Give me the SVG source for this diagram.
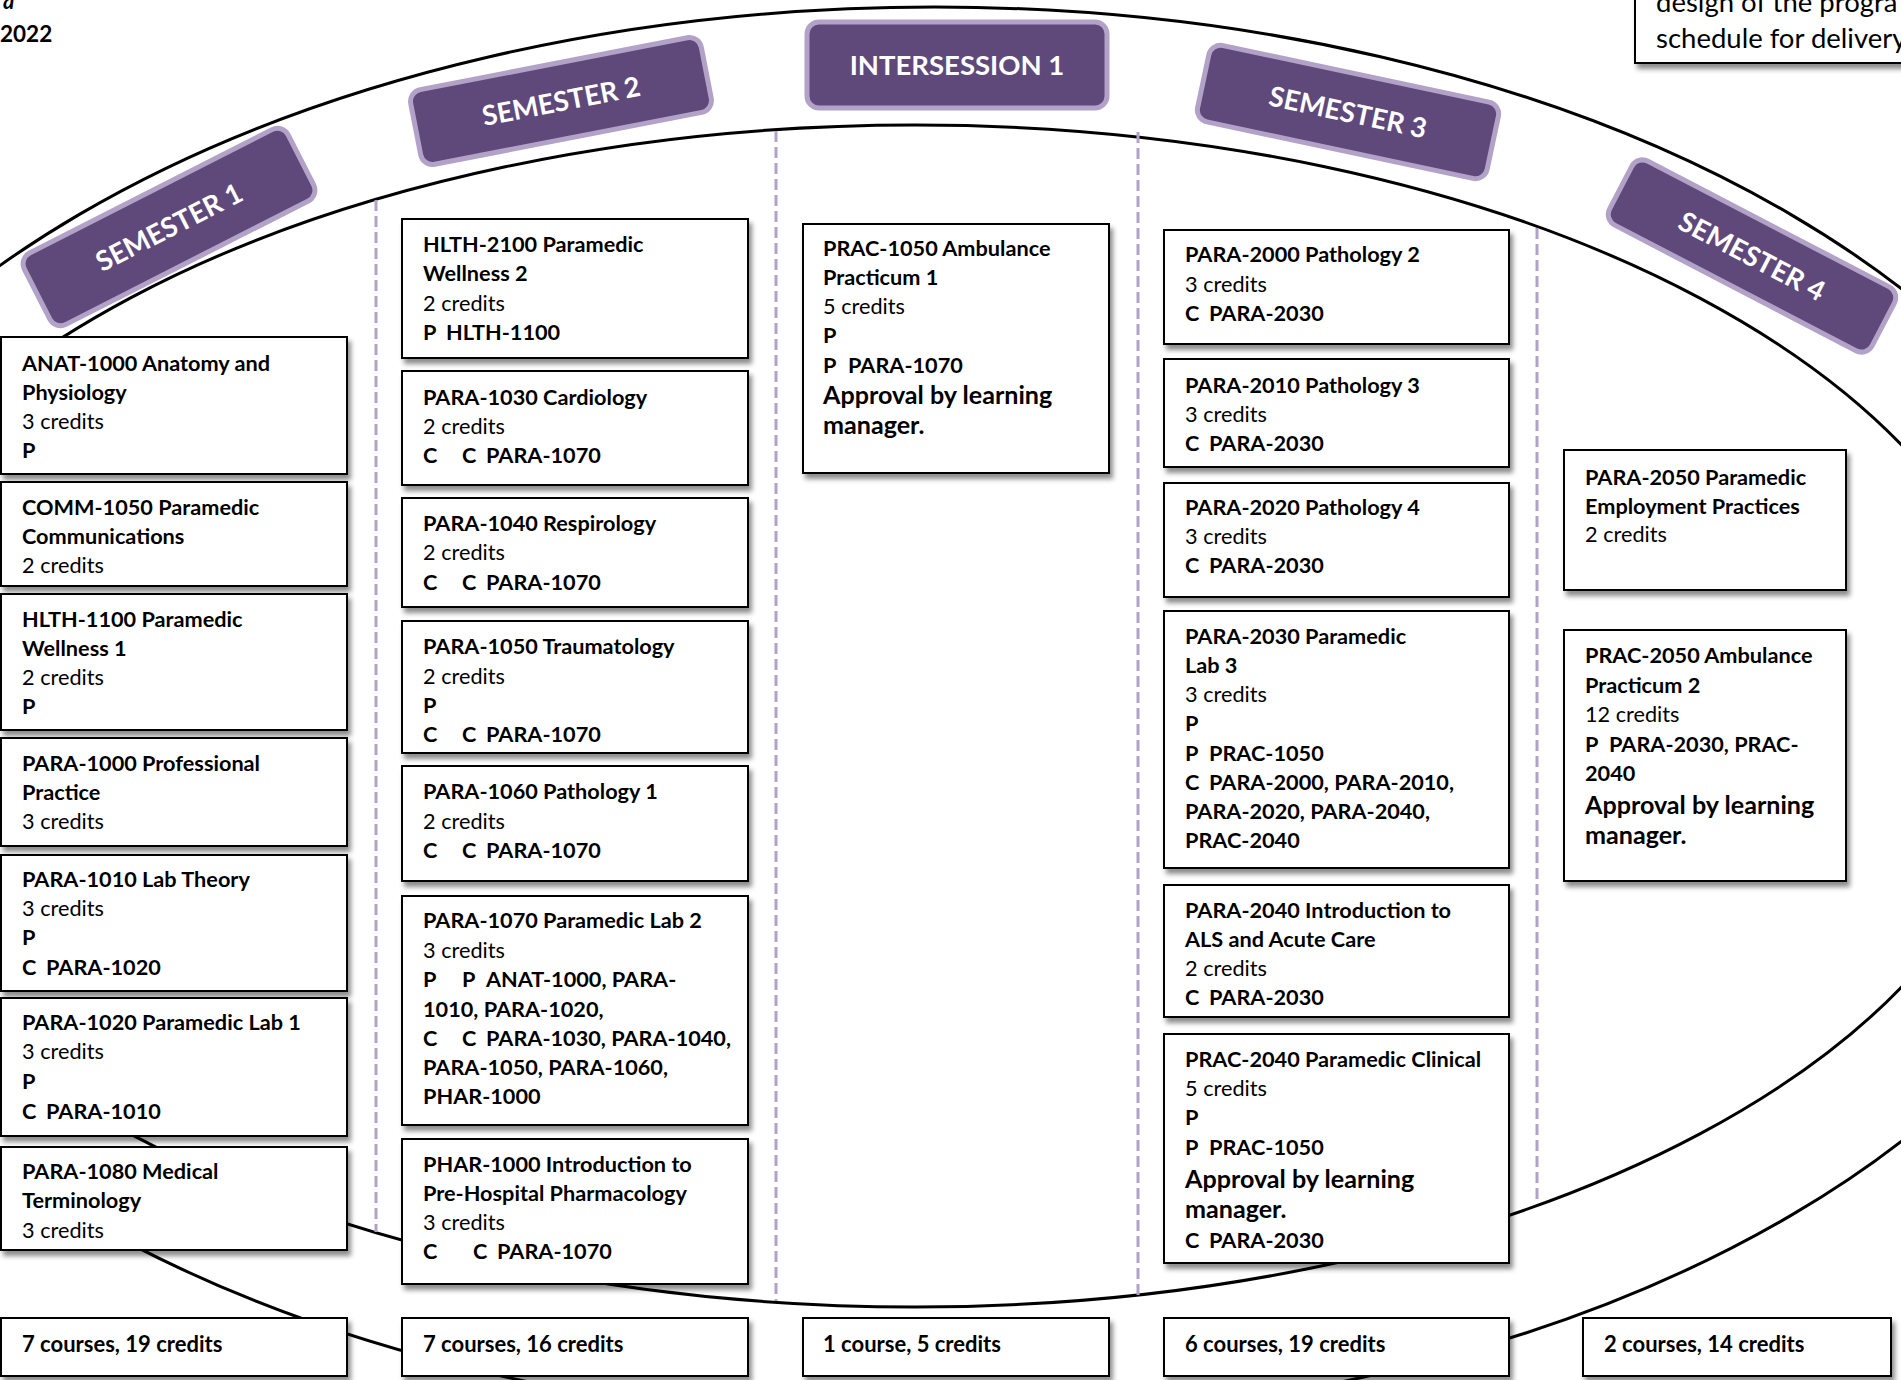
<svg xmlns="http://www.w3.org/2000/svg" width="1901" height="1380" viewBox="0 0 1901 1380">
<style>
text{font-family:Lato,"Liberation Sans",sans-serif;font-size:21.7px;fill:#000}
.b{font-weight:700}
.big{font-size:25.1px;font-weight:700}
.sum{font-size:22px;font-weight:700}
.box{fill:#fff;stroke:#000;stroke-width:2;filter:url(#sh)}
.lbl{fill:#5f497a;stroke:#b3a2c7;stroke-width:5}
.lt{fill:#fff;font-size:27.5px;font-weight:700;text-anchor:middle}
.ring{fill:none;stroke:#000;stroke-width:3}
.dash{stroke:#b3a2c7;stroke-width:3;stroke-dasharray:11 5;fill:none}
.note{font-size:27.5px}
</style>
<defs>
<filter id="sh" x="-10%" y="-10%" width="130%" height="140%">
<feDropShadow dx="3" dy="5" stdDeviation="2.5" flood-color="#000" flood-opacity="0.45"/>
</filter>
</defs>
<rect x="0" y="0" width="1901" height="1380" fill="#fff"/>

<g id="connectors">
<ellipse class="ring" cx="935" cy="715" rx="1210" ry="708"/>
<ellipse class="ring" cx="915" cy="716" rx="1110" ry="591"/>
<line class="dash" x1="376" y1="200" x2="376" y2="1232"/>
<line class="dash" x1="776" y1="131" x2="776" y2="1301"/>
<line class="dash" x1="1138" y1="132" x2="1138" y2="1300"/>
<line class="dash" x1="1537" y1="228" x2="1537" y2="1204"/>
</g>

<g id="header-text">
<text class="b" x="3" y="9" font-style="italic">a</text>
<text class="b" x="0" y="42" style="font-size:22.5px">2022</text>
</g>

<g id="note">
<rect class="box" x="1635" y="-10" width="280" height="73"/>
<text class="note" x="1656" y="12">design of the progra</text>
<text class="note" x="1656" y="48">schedule for delivery</text>
</g>

<!-- Column 1 -->
<g id="anat-1000">
<rect class="box" x="1" y="337" width="346" height="137"/>
<text class="b" x="22" y="371">ANAT-1000 Anatomy and</text>
<text class="b" x="22" y="400">Physiology</text>
<text x="22" y="429">3 credits</text>
<text class="b" x="22" y="458">P</text>
</g>
<g id="comm-1050">
<rect class="box" x="1" y="482" width="346" height="104"/>
<text class="b" x="22" y="515">COMM-1050 Paramedic</text>
<text class="b" x="22" y="544">Communications</text>
<text x="22" y="573">2 credits</text>
</g>
<g id="hlth-1100">
<rect class="box" x="1" y="594" width="346" height="136"/>
<text class="b" x="22" y="627">HLTH-1100 Paramedic</text>
<text class="b" x="22" y="656">Wellness 1</text>
<text x="22" y="685">2 credits</text>
<text class="b" x="22" y="714">P</text>
</g>
<g id="para-1000">
<rect class="box" x="1" y="738" width="346" height="108"/>
<text class="b" x="22" y="771">PARA-1000 Professional</text>
<text class="b" x="22" y="800">Practice</text>
<text x="22" y="829">3 credits</text>
</g>
<g id="para-1010">
<rect class="box" x="1" y="855" width="346" height="136"/>
<text class="b" x="22" y="887">PARA-1010 Lab Theory</text>
<text x="22" y="916">3 credits</text>
<text class="b" x="22" y="945">P</text>
<text class="b" x="22" y="975">C<tspan x="46">PARA-1020</tspan></text>
</g>
<g id="para-1020">
<rect class="box" x="1" y="998" width="346" height="138"/>
<text class="b" x="22" y="1030">PARA-1020 Paramedic Lab 1</text>
<text x="22" y="1059">3 credits</text>
<text class="b" x="22" y="1089">P</text>
<text class="b" x="22" y="1119">C<tspan x="46">PARA-1010</tspan></text>
</g>
<g id="para-1080">
<rect class="box" x="1" y="1147" width="346" height="103"/>
<text class="b" x="22" y="1179">PARA-1080 Medical</text>
<text class="b" x="22" y="1208">Terminology</text>
<text x="22" y="1238">3 credits</text>
</g>
<g id="sum-1">
<rect class="box" x="1" y="1318" width="346" height="58"/>
<text class="sum" x="22" y="1352">7 courses, 19 credits</text>
</g>

<!-- Column 2 -->
<g id="hlth-2100">
<rect class="box" x="402" y="219" width="346" height="139"/>
<text class="b" x="423" y="252">HLTH-2100 Paramedic</text>
<text class="b" x="423" y="281">Wellness 2</text>
<text x="423" y="311">2 credits</text>
<text class="b" x="423" y="340">P<tspan x="446">HLTH-1100</tspan></text>
</g>
<g id="para-1030">
<rect class="box" x="402" y="371" width="346" height="114"/>
<text class="b" x="423" y="405">PARA-1030 Cardiology</text>
<text x="423" y="434">2 credits</text>
<text class="b" x="423" y="463">C<tspan x="462">C</tspan><tspan x="486">PARA-1070</tspan></text>
</g>
<g id="para-1040">
<rect class="box" x="402" y="498" width="346" height="109"/>
<text class="b" x="423" y="531">PARA-1040 Respirology</text>
<text x="423" y="560">2 credits</text>
<text class="b" x="423" y="590">C<tspan x="462">C</tspan><tspan x="486">PARA-1070</tspan></text>
</g>
<g id="para-1050">
<rect class="box" x="402" y="621" width="346" height="132"/>
<text class="b" x="423" y="654">PARA-1050 Traumatology</text>
<text x="423" y="684">2 credits</text>
<text class="b" x="423" y="713">P</text>
<text class="b" x="423" y="742">C<tspan x="462">C</tspan><tspan x="486">PARA-1070</tspan></text>
</g>
<g id="para-1060">
<rect class="box" x="402" y="766" width="346" height="115"/>
<text class="b" x="423" y="799">PARA-1060 Pathology 1</text>
<text x="423" y="829">2 credits</text>
<text class="b" x="423" y="858">C<tspan x="462">C</tspan><tspan x="486">PARA-1070</tspan></text>
</g>
<g id="para-1070">
<rect class="box" x="402" y="896" width="346" height="229"/>
<text class="b" x="423" y="928">PARA-1070 Paramedic Lab 2</text>
<text x="423" y="958">3 credits</text>
<text class="b" x="423" y="987">P<tspan x="462">P</tspan><tspan x="486">ANAT-1000, PARA-</tspan></text>
<text class="b" x="423" y="1017">1010, PARA-1020,</text>
<text class="b" x="423" y="1046">C<tspan x="462">C</tspan><tspan x="486">PARA-1030, PARA-1040,</tspan></text>
<text class="b" x="423" y="1075">PARA-1050, PARA-1060,</text>
<text class="b" x="423" y="1104">PHAR-1000</text>
</g>
<g id="phar-1000">
<rect class="box" x="402" y="1139" width="346" height="145"/>
<text class="b" x="423" y="1172">PHAR-1000 Introduction to</text>
<text class="b" x="423" y="1201">Pre-Hospital Pharmacology</text>
<text x="423" y="1230">3 credits</text>
<text class="b" x="423" y="1259">C<tspan x="473">C</tspan><tspan x="497">PARA-1070</tspan></text>
</g>
<g id="sum-2">
<rect class="box" x="402" y="1318" width="346" height="58"/>
<text class="sum" x="423" y="1352">7 courses, 16 credits</text>
</g>

<!-- Column 3 -->
<g id="prac-1050">
<rect class="box" x="803" y="224" width="306" height="249"/>
<text class="b" x="823" y="256">PRAC-1050 Ambulance</text>
<text class="b" x="823" y="285">Practicum 1</text>
<text x="823" y="314">5 credits</text>
<text class="b" x="823" y="343">P</text>
<text class="b" x="823" y="373">P<tspan x="848">PARA-1070</tspan></text>
<text class="big" x="823" y="404">Approval by learning</text>
<text class="big" x="823" y="434">manager.</text>
</g>
<g id="sum-3">
<rect class="box" x="803" y="1318" width="306" height="58"/>
<text class="sum" x="823" y="1352">1 course, 5 credits</text>
</g>

<!-- Column 4 -->
<g id="para-2000">
<rect class="box" x="1164" y="230" width="345" height="114"/>
<text class="b" x="1185" y="262">PARA-2000 Pathology 2</text>
<text x="1185" y="292">3 credits</text>
<text class="b" x="1185" y="321">C<tspan x="1209">PARA-2030</tspan></text>
</g>
<g id="para-2010">
<rect class="box" x="1164" y="359" width="345" height="108"/>
<text class="b" x="1185" y="393">PARA-2010 Pathology 3</text>
<text x="1185" y="422">3 credits</text>
<text class="b" x="1185" y="451">C<tspan x="1209">PARA-2030</tspan></text>
</g>
<g id="para-2020">
<rect class="box" x="1164" y="483" width="345" height="114"/>
<text class="b" x="1185" y="515">PARA-2020 Pathology 4</text>
<text x="1185" y="544">3 credits</text>
<text class="b" x="1185" y="573">C<tspan x="1209">PARA-2030</tspan></text>
</g>
<g id="para-2030">
<rect class="box" x="1164" y="611" width="345" height="257"/>
<text class="b" x="1185" y="644">PARA-2030 Paramedic</text>
<text class="b" x="1185" y="673">Lab 3</text>
<text x="1185" y="702">3 credits</text>
<text class="b" x="1185" y="731">P</text>
<text class="b" x="1185" y="761">P<tspan x="1209">PRAC-1050</tspan></text>
<text class="b" x="1185" y="790">C<tspan x="1209">PARA-2000, PARA-2010,</tspan></text>
<text class="b" x="1185" y="819">PARA-2020, PARA-2040,</text>
<text class="b" x="1185" y="848">PRAC-2040</text>
</g>
<g id="para-2040">
<rect class="box" x="1164" y="885" width="345" height="132"/>
<text class="b" x="1185" y="918">PARA-2040 Introduction to</text>
<text class="b" x="1185" y="947">ALS and Acute Care</text>
<text x="1185" y="976">2 credits</text>
<text class="b" x="1185" y="1005">C<tspan x="1209">PARA-2030</tspan></text>
</g>
<g id="prac-2040">
<rect class="box" x="1164" y="1034" width="345" height="229"/>
<text class="b" x="1185" y="1067">PRAC-2040 Paramedic Clinical</text>
<text x="1185" y="1096">5 credits</text>
<text class="b" x="1185" y="1125">P</text>
<text class="b" x="1185" y="1155">P<tspan x="1209">PRAC-1050</tspan></text>
<text class="big" x="1185" y="1188">Approval by learning</text>
<text class="big" x="1185" y="1218">manager.</text>
<text class="b" x="1185" y="1248">C<tspan x="1209">PARA-2030</tspan></text>
</g>
<g id="sum-4">
<rect class="box" x="1164" y="1318" width="345" height="58"/>
<text class="sum" x="1185" y="1352">6 courses, 19 credits</text>
</g>

<!-- Column 5 -->
<g id="para-2050">
<rect class="box" x="1564" y="450" width="282" height="140"/>
<text class="b" x="1585" y="485">PARA-2050 Paramedic</text>
<text class="b" x="1585" y="514">Employment Practices</text>
<text x="1585" y="542">2 credits</text>
</g>
<g id="prac-2050">
<rect class="box" x="1564" y="630" width="282" height="251"/>
<text class="b" x="1585" y="663">PRAC-2050 Ambulance</text>
<text class="b" x="1585" y="693">Practicum 2</text>
<text x="1585" y="722">12 credits</text>
<text class="b" x="1585" y="752">P<tspan x="1609">PARA-2030, PRAC-</tspan></text>
<text class="b" x="1585" y="781">2040</text>
<text class="big" x="1585" y="814">Approval by learning</text>
<text class="big" x="1585" y="844">manager.</text>
</g>
<g id="sum-5">
<rect class="box" x="1583" y="1318" width="308" height="58"/>
<text class="sum" x="1604" y="1352">2 courses, 14 credits</text>
</g>

<!-- Term labels -->
<g id="semester-1" transform="translate(169,227) rotate(-27)">
<rect class="lbl" x="-148" y="-40" width="296" height="80" rx="12"/>
<text class="lt" x="0" y="10">SEMESTER 1</text>
</g>
<g id="semester-2" transform="translate(561,101) rotate(-11)">
<rect class="lbl" x="-148" y="-38" width="296" height="76" rx="12"/>
<text class="lt" x="0" y="10">SEMESTER 2</text>
</g>
<g id="intersession-1">
<rect class="lbl" x="807" y="22" width="300" height="86" rx="12"/>
<text class="lt" x="957" y="75">INTERSESSION 1</text>
</g>
<g id="semester-3" transform="translate(1348,112) rotate(12)">
<rect class="lbl" x="-148" y="-39" width="296" height="78" rx="12"/>
<text class="lt" x="0" y="10">SEMESTER 3</text>
</g>
<g id="semester-4" transform="translate(1752,256) rotate(27.5)">
<rect class="lbl" x="-148" y="-36" width="296" height="72" rx="12"/>
<text class="lt" x="0" y="10">SEMESTER 4</text>
</g>
</svg>
